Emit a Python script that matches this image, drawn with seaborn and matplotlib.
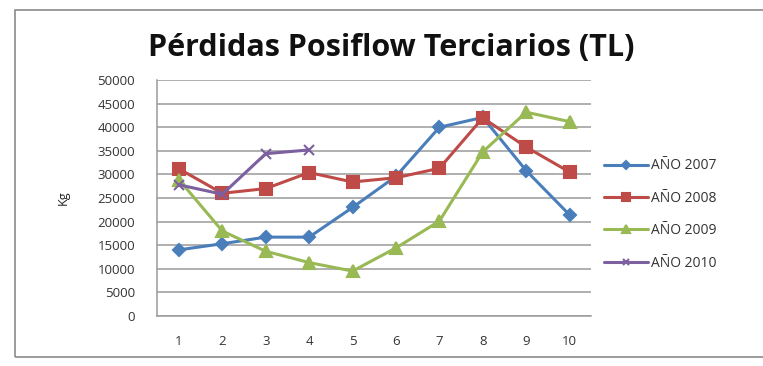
import matplotlib
matplotlib.use("Agg")
import matplotlib.pyplot as plt
from matplotlib.patches import Rectangle
import pandas as pd
import seaborn as sns

meses = [1, 2, 3, 4, 5, 6, 7, 8, 9, 10]
anio_2007 = [14000, 15300, 16700, 16700, 23000, 29600, 40000, 42100, 30800, 21400]
anio_2008 = [31200, 26000, 27000, 30400, 28400, 29300, 31300, 42000, 35800, 30500]
anio_2009 = [28900, 18000, 13700, 11300, 9500, 14400, 20100, 34800, 43200, 41200]
anio_2010 = [27800, 25800, 34400, 35200]
series = ["AÑO 2007", "AÑO 2008", "AÑO 2009", "AÑO 2010"]

rows = []
for name, vals in zip(series, [anio_2007, anio_2008, anio_2009, anio_2010]):
    for m, v in zip(meses, vals):
        rows.append({"mes": m, "kg": v, "serie": name})
df = pd.DataFrame(rows)

sns.set_style("white")
plt.rcParams["font.family"] = ["Open Sans", "DejaVu Sans"]

colores = {"AÑO 2007": "#4A7EBB", "AÑO 2008": "#BE4B48",
           "AÑO 2009": "#98B954", "AÑO 2010": "#7D60A0"}
marcadores = {"AÑO 2007": "D", "AÑO 2008": "s", "AÑO 2009": "^", "AÑO 2010": "x"}
tamanos = {"AÑO 2007": 6, "AÑO 2008": 9, "AÑO 2009": 8, "AÑO 2010": 7}

fig = plt.figure(figsize=(7.63, 3.66), dpi=100)
ax = fig.add_axes([0.206, 0.137, 0.569, 0.644])

for name in series:
    sub = df[df["serie"] == name]
    sns.lineplot(data=sub, x="mes", y="kg", ax=ax, color=colores[name],
                 marker=marcadores[name], markersize=tamanos[name],
                 markeredgecolor=colores[name], markeredgewidth=1.5,
                 linewidth=2.2, label=name)

ax.set_xlim(0.5, 10.5)
ax.set_ylim(0, 50000)
ax.set_xticks(meses)
ax.set_yticks(range(0, 50001, 5000))
ax.grid(axis="y", color="#9a9a9a", linewidth=1.1)
ax.set_axisbelow(True)
for s in ["top", "right"]:
    ax.spines[s].set_visible(False)
for s in ["left", "bottom"]:
    ax.spines[s].set_color("#9a9a9a")
    ax.spines[s].set_linewidth(1.1)
ax.tick_params(axis="both", length=0, labelsize=9.5, colors="#333333")
ax.tick_params(axis="y", pad=16)
ax.tick_params(axis="x", pad=14)
ax.set_xlabel("")
ax.set_ylabel("Kg", fontsize=9, color="#222222", labelpad=20)

fig.suptitle("Pérdidas Posiflow Terciarios (TL)", x=0.513, y=0.91,
             fontsize=22, fontweight="bold", color="#111111")

leg = ax.legend(loc="center left", bbox_to_anchor=(1.0, 0.43), frameon=False,
                fontsize=10, handlelength=3.2, handletextpad=0.2,
                labelspacing=1.25, markerscale=0.7, labelcolor="#333333")

fig.patches.append(Rectangle((15 / 763, 1 - 357 / 366), 760 / 763, 347 / 366,
                             transform=fig.transFigure, fill=False,
                             edgecolor="#8a8a8a", linewidth=1.2))

fig.savefig("out.png", dpi=100)
